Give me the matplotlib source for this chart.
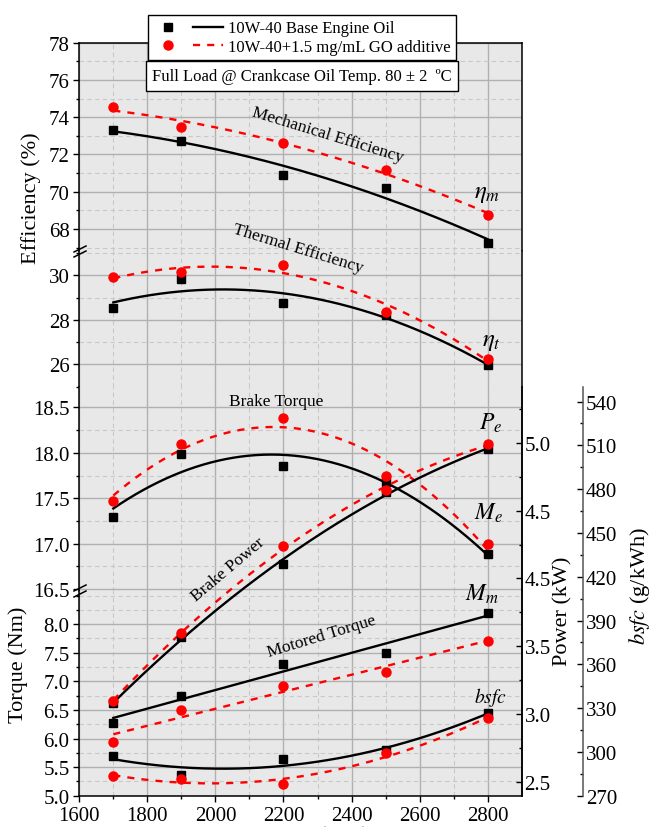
import numpy as np
import matplotlib
matplotlib.use('Agg')
import matplotlib.pyplot as plt
from matplotlib.legend_handler import HandlerTuple
from matplotlib.lines import Line2D

plt.rcParams['font.family'] = ['Liberation Serif', 'DejaVu Serif']
plt.rcParams['mathtext.fontset'] = 'stix'

# engine speed (rpm)
speed = [1700, 1900, 2200, 2500, 2800]

# base oil vs oil + GO additive
mech_base = [73.31, 72.71, 70.91, 70.22, 67.25]
mech_go = [74.55, 73.49, 72.62, 71.18, 68.75]
therm_base = [28.55, 29.82, 28.77, 28.23, 25.99]
therm_go = [29.91, 30.15, 30.49, 28.38, 26.26]
torque_base = [17.29, 17.99, 17.85, 17.68, 16.89]
torque_go = [17.47, 18.10, 18.38, 17.74, 17.00]
power_base = [3.08, 3.57, 4.11, 4.64, 4.95]
power_go = [3.10, 3.60, 4.24, 4.65, 4.99]
motored_base = [6.28, 6.75, 7.31, 7.49, 8.20]
motored_go = [5.94, 6.50, 6.92, 7.17, 7.71]
bsfc_base = [297.2, 284.4, 294.9, 301.0, 326.5]
bsfc_go = [283.3, 281.4, 278.0, 299.1, 323.0]

labels = ['10W-40 Base Engine Oil', '10W-40+1.5 mg/mL GO additive']

W, H = 654, 828
fig = plt.figure(figsize=(W / 100, H / 100), dpi=100)

XL, XR = 79.3, 521.7


def rect(top, bottom, left=XL, right=XR):
    return [left / W, 1 - bottom / H, (right - left) / W, (bottom - top) / H]


xs = np.linspace(1700, 2800, 200)


def fit(y, deg=2):
    return np.polyval(np.polyfit(speed, y, deg), xs)


def pair(ax, base, go, deg=2):
    lb, = ax.plot(xs, fit(base, deg), color='black', lw=1.7, zorder=3)
    lr, = ax.plot(xs, fit(go, deg), color='red', lw=1.7, ls=(0, (3, 3)), zorder=3)
    sq, = ax.plot(speed, base, 's', color='black', ms=5.5, zorder=4)
    ci, = ax.plot(speed, go, 'o', color='red', ms=6.5, zorder=5)
    return sq, lb, ci, lr


# left axis segments (broken axis)
edges = [43.7, 252, 387.7, 592, 796.7]
ylims = [(66.82, 78), (25.0, 31.1), (16.48, 18.727), (5.0, 8.58)]
yticks = [[68, 70, 72, 74, 76, 78], [26, 28, 30],
          [16.5, 17.0, 17.5, 18.0, 18.5], [5.0, 5.5, 6.0, 6.5, 7.0, 7.5, 8.0]]
yminor = [1, 1, 0.25, 0.25]
fmts = ['%d', '%d', '%.1f', '%.1f']

axes = []
for i in range(4):
    ax = fig.add_axes(rect(edges[i], edges[i + 1]))
    ax.set_facecolor('#e8e8e8')
    ax.set_xlim(1600, 2900)
    ax.set_ylim(*ylims[i])
    ax.set_xticks(range(1600, 2801, 200))
    ax.set_xticks(range(1700, 2900, 200), minor=True)
    ax.set_yticks(yticks[i])
    ax.set_yticklabels([fmts[i] % v for v in yticks[i]])
    ax.yaxis.set_minor_locator(matplotlib.ticker.MultipleLocator(yminor[i]))
    ax.set_axisbelow(True)
    ax.grid(which='major', color='#b0b0b0', lw=1.0)
    ax.grid(which='minor', color='#c8c8c8', lw=0.8, ls=(0, (4, 3)))
    ax.tick_params(axis='y', which='major', direction='out', length=4.5, width=1, pad=2.5, labelsize=15)
    ax.tick_params(axis='y', which='minor', direction='out', length=2.5, width=1)
    for s in ax.spines.values():
        s.set_linewidth(1.1)
    if i > 0:
        ax.spines['top'].set_visible(False)
    if i < 3:
        ax.spines['bottom'].set_visible(False)
        ax.tick_params(axis='x', which='both', bottom=False, labelbottom=False)
    else:
        ax.tick_params(axis='x', which='major', direction='out', length=4.5, width=1, pad=3, labelsize=15)
        ax.tick_params(axis='x', which='minor', direction='out', length=2.5, width=1)
    axes.append(ax)

axA, axB, axC, axD = axes

sq, lb, ci, lr = pair(axA, mech_base, mech_go)
pair(axB, therm_base, therm_go)
pair(axC, torque_base, torque_go)
pair(axD, motored_base, motored_go, deg=1)

# right axes: power and bsfc
axP = fig.add_axes(rect(388, 796.7), facecolor='none')
axF = fig.add_axes(rect(388, 796.7), facecolor='none')
for ax in (axP, axF):
    ax.set_xlim(1600, 2900)
    for k in ('top', 'bottom', 'left'):
        ax.spines[k].set_visible(False)
    ax.spines['right'].set_linewidth(1.1)
    ax.tick_params(axis='x', which='both', bottom=False, labelbottom=False)
    ax.yaxis.tick_right()
    ax.tick_params(axis='y', which='major', direction='in', length=4.5, width=1, pad=2, labelsize=15)
    ax.tick_params(axis='y', which='minor', direction='in', length=2.5, width=1)

axP.set_ylim(2.40, 5.41)
axP.set_yticks([2.5, 3.0, 3.5, 4.0, 4.5, 5.0])
axP.set_yticklabels(['2.5', '3.0', '3.5', '4.5', '4.5', '5.0'])
axP.yaxis.set_minor_locator(matplotlib.ticker.MultipleLocator(0.25))
pair(axP, power_base, power_go)

axF.spines['right'].set_position(('axes', (583 - XL) / (XR - XL)))
axF.spines['right'].set_color('#555555')
axF.set_ylim(270, 550)
axF.set_yticks(range(270, 541, 30))
axF.yaxis.set_minor_locator(matplotlib.ticker.MultipleLocator(15))
pair(axF, bsfc_base, bsfc_go)

# annotations
tk = dict(ha='center', va='center', rotation_mode='anchor', fontsize=12.5)
axA.text(2331, 73.1, 'Mechanical Efficiency', rotation=-17, **tk)
axA.text(2799, 69.93, r'$\eta_m$', ha='center', va='center', fontsize=18)
axB.text(2243, 31.24, 'Thermal Efficiency', rotation=-17, **tk)
axB.text(2811, 27.07, r'$\eta_t$', ha='center', va='center', fontsize=18)
axC.text(2178, 18.57, 'Brake Torque', **tk)
axC.text(2808, 18.34, r'$P_e$', ha='center', va='center', fontsize=17)
axC.text(2802, 17.34, r'$M_e$', ha='center', va='center', fontsize=17)
axP.text(2037, 4.07, 'Brake Power', rotation=40, **tk)
axD.text(2784, 8.54, r'$M_m$', ha='center', va='center', fontsize=17)
axD.text(2311, 7.79, 'Motored Torque', rotation=17, **tk)
axD.text(2808, 6.74, r'$bsfc$', ha='center', va='center', fontsize=14)

# axis labels
fig.text(31 / W, 1 - 198 / H, 'Efficiency (%)', rotation=90, ha='center', va='center', fontsize=16)
fig.text(18 / W, 1 - 665 / H, 'Torque (Nm)', rotation=90, ha='center', va='center', fontsize=16)
fig.text(563 / W, 1 - 611 / H, 'Power (kW)', rotation=90, ha='center', va='center', fontsize=16)
fig.text(640 / W, 1 - 586 / H, r'$bsfc$ (g/kWh)', rotation=90, ha='center', va='center', fontsize=16)
fig.text(280 / W, 1 - 826.5 / H, 'Engine Speed (rpm)', ha='center', va='top', fontsize=16)

# condition box
fig.text(302 / W, 1 - 77 / H, 'Full Load @ Crankcase Oil Temp. 80 \u00b1 2  \u00baC', ha='center', va='center',
         fontsize=12, bbox=dict(boxstyle='square,pad=0.4', fc='white', ec='black', lw=1))

# axis break marks
for yb in (250, 255, 589, 595):
    fig.add_artist(Line2D([74 / W, 86 / W], [1 - (yb + 3) / H, 1 - (yb - 3) / H], color='black', lw=1.1))

fig.legend(handles=[(sq, lb), (ci, lr)], labels=labels,
           handler_map={tuple: HandlerTuple(ndivide=None, pad=0.6)},
           loc='upper left', bbox_to_anchor=(140 / W, 1 - 8 / H), fancybox=False, edgecolor='black',
           framealpha=1, fontsize=12, handlelength=4.2, borderpad=0.3, labelspacing=0.15, handletextpad=0.3)

fig.savefig('out.png', dpi=100)
